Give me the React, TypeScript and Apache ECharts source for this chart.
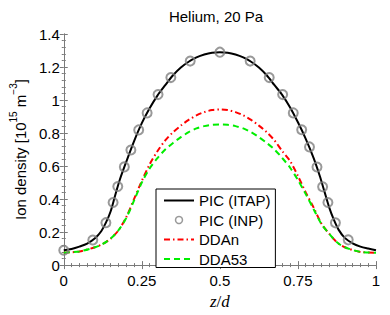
import React, { useEffect, useRef } from "react";
import * as echarts from "echarts";

const TITLE = "Helium, 20 Pa";

const ITAP_X = [0, 0.025, 0.05, 0.075, 0.1, 0.12, 0.135, 0.15, 0.165, 0.18, 0.2, 0.225, 0.25, 0.275, 0.3, 0.325, 0.35, 0.375, 0.4, 0.425, 0.45, 0.475, 0.5, 0.525, 0.55, 0.575, 0.6, 0.625, 0.65, 0.675, 0.7, 0.725, 0.75, 0.775, 0.8, 0.82, 0.835, 0.85, 0.865, 0.88, 0.9, 0.925, 0.95, 0.975, 1.0];
const ITAP_Y = [0.09, 0.098, 0.112, 0.13, 0.162, 0.205, 0.257, 0.325, 0.425, 0.52, 0.625, 0.75, 0.86, 0.95, 1.027, 1.09, 1.15, 1.197, 1.232, 1.258, 1.276, 1.287, 1.29, 1.287, 1.276, 1.258, 1.232, 1.197, 1.15, 1.09, 1.03, 0.955, 0.865, 0.765, 0.65, 0.54, 0.445, 0.35, 0.275, 0.215, 0.165, 0.132, 0.112, 0.1, 0.09];

const INP_X = [0, 0.093, 0.135, 0.158, 0.173, 0.194, 0.215, 0.24, 0.267, 0.302, 0.343, 0.405, 0.5, 0.597, 0.658, 0.701, 0.735, 0.762, 0.787, 0.811, 0.829, 0.846, 0.87, 0.911];
const INP_Y = [0.09, 0.152, 0.257, 0.379, 0.476, 0.595, 0.697, 0.819, 0.922, 1.033, 1.136, 1.236, 1.29, 1.236, 1.136, 1.033, 0.922, 0.82, 0.716, 0.594, 0.475, 0.379, 0.256, 0.153];

const DDAN_X = [0, 0.05, 0.1, 0.125, 0.15, 0.175, 0.2, 0.225, 0.25, 0.275, 0.3, 0.325, 0.35, 0.375, 0.4, 0.425, 0.45, 0.475, 0.5, 0.525, 0.55, 0.575, 0.6, 0.625, 0.65, 0.675, 0.7, 0.725, 0.75, 0.775, 0.8, 0.825, 0.85, 0.875, 0.9, 0.95, 1.0];
const DDAN_Y = [0.075, 0.083, 0.108, 0.128, 0.16, 0.21, 0.29, 0.4, 0.51, 0.61, 0.69, 0.755, 0.805, 0.845, 0.88, 0.907, 0.927, 0.939, 0.943, 0.939, 0.927, 0.907, 0.88, 0.845, 0.805, 0.755, 0.69, 0.63, 0.54, 0.44, 0.35, 0.252, 0.19, 0.138, 0.108, 0.08, 0.075];

const DDA53_X = [0, 0.05, 0.1, 0.125, 0.15, 0.175, 0.2, 0.225, 0.25, 0.275, 0.3, 0.325, 0.35, 0.375, 0.4, 0.425, 0.45, 0.475, 0.5, 0.525, 0.55, 0.575, 0.6, 0.625, 0.65, 0.675, 0.7, 0.725, 0.75, 0.775, 0.8, 0.825, 0.85, 0.875, 0.9, 0.95, 1.0];
const DDA53_Y = [0.075, 0.083, 0.108, 0.128, 0.16, 0.21, 0.285, 0.39, 0.5, 0.585, 0.648, 0.7, 0.74, 0.775, 0.805, 0.828, 0.842, 0.85, 0.852, 0.85, 0.842, 0.828, 0.805, 0.775, 0.74, 0.7, 0.648, 0.59, 0.515, 0.43, 0.34, 0.25, 0.19, 0.138, 0.108, 0.08, 0.075];

const SERIES_NAMES = ["PIC (ITAP)", "PIC (INP)", "DDAn", "DDA53"];

const pairs = (xs: number[], ys: number[]) => xs.map((x, i) => [x, ys[i]]);

const FONT = "'Liberation Sans', Arial, Helvetica, sans-serif";
const SERIF = "'Liberation Serif', 'Times New Roman', serif";
const AXIS_COLOR = "#7a7a7a";

export default function App() {
  const ref = useRef<HTMLDivElement>(null);
  useEffect(() => {
    if (!ref.current) return;
    const chart = echarts.init(ref.current, undefined, { renderer: "svg" });
    const commonX = {
      type: "value",
      min: 0,
      max: 1,
      interval: 0.25,
      axisLine: { show: true, lineStyle: { color: AXIS_COLOR, width: 1 } },
      axisTick: { show: true, inside: true, length: 4, lineStyle: { color: AXIS_COLOR } },
      minorTick: { show: true, splitNumber: 10, length: 2, lineStyle: { color: AXIS_COLOR } },
      splitLine: { show: false },
    };
    const commonY = {
      type: "value",
      min: 0,
      max: 1.4,
      interval: 0.2,
      axisLine: { show: true, lineStyle: { color: AXIS_COLOR, width: 1 } },
      axisTick: { show: true, inside: true, length: 4, lineStyle: { color: AXIS_COLOR } },
      minorTick: { show: true, splitNumber: 5, length: 2, lineStyle: { color: AXIS_COLOR } },
      splitLine: { show: false },
    };
    chart.setOption({
      animation: false,
      backgroundColor: "#fff",
      textStyle: { fontFamily: FONT },
      title: {
        text: TITLE,
        left: 216,
        textAlign: "center",
        top: 9,
        padding: 0,
        textStyle: { fontFamily: FONT, fontSize: 15, fontWeight: "normal", color: "#000" },
      },
      grid: { left: 56, right: 14, top: 34, bottom: 42, containLabel: false },
      legend: {
        left: 156,
        top: 189,
        orient: "vertical",
        itemWidth: 30,
        itemHeight: 7,
        itemGap: 4.5,
        padding: [4, 5, 1, 7],
        borderColor: "#000",
        borderWidth: 1,
        borderRadius: 0,
        backgroundColor: "#fff",
        textStyle: { fontFamily: FONT, fontSize: 15, color: "#000" },
        data: [
          { name: SERIES_NAMES[0], itemStyle: { opacity: 0 } },
          { name: SERIES_NAMES[1], itemStyle: { borderWidth: 1.5 } },
          { name: SERIES_NAMES[2], itemStyle: { opacity: 0 } },
          { name: SERIES_NAMES[3], itemStyle: { opacity: 0 } },
        ],
      },
      xAxis: [
        {
          ...commonX,
          position: "bottom",
          axisLabel: { show: true, fontFamily: FONT, fontSize: 15, color: "#000", margin: 8 },
          name: "{i|z}/{i|d}",
          nameLocation: "middle",
          nameGap: 19,
          nameTextStyle: {
            fontFamily: SERIF,
            fontSize: 17,
            color: "#000",
            rich: { i: { fontFamily: SERIF, fontStyle: "italic", fontSize: 17, color: "#000" } },
          },
        },
        { ...commonX, position: "top", axisLabel: { show: false } },
      ],
      yAxis: [
        {
          ...commonY,
          position: "left",
          axisLabel: { show: true, fontFamily: FONT, fontSize: 15, color: "#000", margin: 4 },
          name: "{a|Ion density [10}{s|15}{a| m}{s|−3}{a|]}",
          nameLocation: "middle",
          nameGap: 20,
          nameRotate: 90,
          nameTextStyle: {
            fontFamily: FONT,
            fontSize: 15,
            color: "#000",
            rich: {
              a: { fontFamily: FONT, fontSize: 15, color: "#000", lineHeight: 20, verticalAlign: "bottom" },
              s: { fontFamily: FONT, fontSize: 10, color: "#000", verticalAlign: "top" },
            },
          },
        },
        { ...commonY, position: "right", axisLabel: { show: false } },
      ],
      series: [
        {
          name: SERIES_NAMES[0],
          type: "line",
          data: pairs(ITAP_X, ITAP_Y),
          smooth: 0.3,
          symbol: "none",
          lineStyle: { color: "#000", width: 2 },
          itemStyle: { color: "#000" },
          z: 3,
        },
        {
          name: SERIES_NAMES[2],
          type: "line",
          data: pairs(DDAN_X, DDAN_Y),
          smooth: 0.3,
          symbol: "none",
          lineStyle: { color: "#ff0000", width: 2, type: [6, 3, 1.5, 3] },
          itemStyle: { color: "#ff0000" },
          z: 2,
        },
        {
          name: SERIES_NAMES[3],
          type: "line",
          data: pairs(DDA53_X, DDA53_Y),
          smooth: 0.3,
          symbol: "none",
          lineStyle: { color: "#00ee00", width: 2, type: [6, 4] },
          itemStyle: { color: "#00ee00" },
          z: 2,
        },
        {
          name: SERIES_NAMES[1],
          type: "scatter",
          data: pairs(INP_X, INP_Y),
          symbol: "circle",
          symbolSize: 9,
          itemStyle: { color: "rgba(0,0,0,0)", borderColor: "#808080", borderWidth: 2 },
          z: 4,
        },
      ],
    });
    return () => chart.dispose();
  }, []);
  return <div ref={ref} style={{ width: 390, height: 315, position: "absolute", left: 0, top: 0 }} />;
}
